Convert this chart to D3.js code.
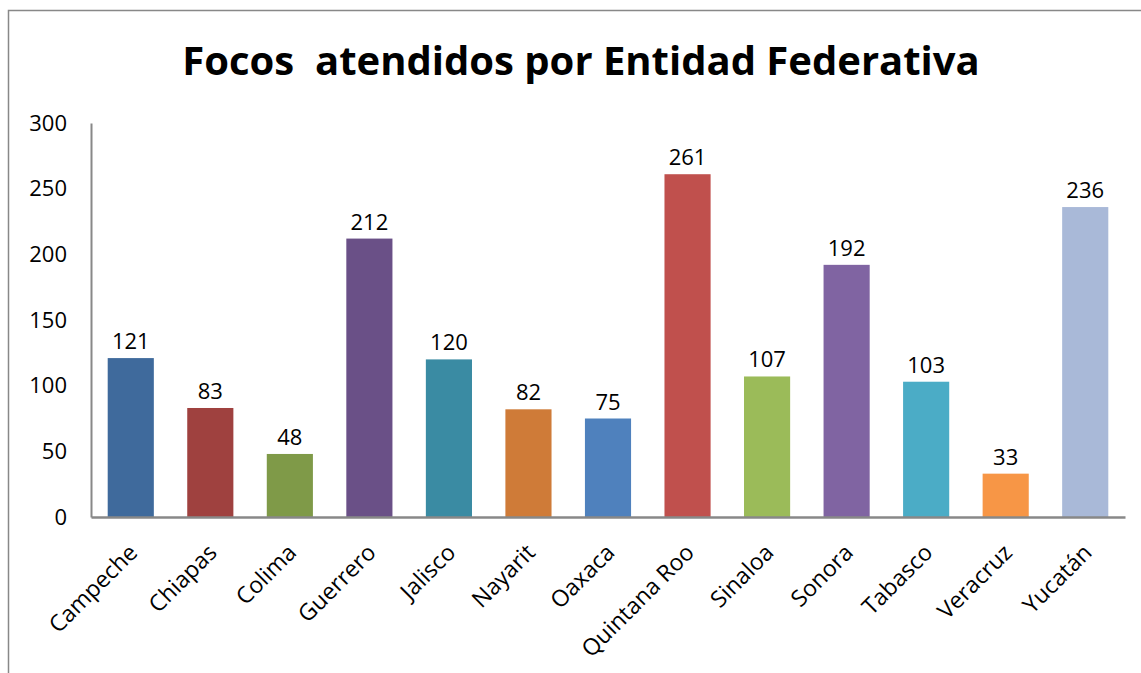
<!DOCTYPE html>
<html>
<head>
<meta charset="utf-8">
<script src="https://cdn.jsdelivr.net/npm/d3@7"></script>
<style>
  html, body { margin: 0; padding: 0; background: #fff; }
  svg { display: block; }
</style>
</head>
<body>
<div id="chart"></div>
<script>
const categories = ["Campeche", "Chiapas", "Colima", "Guerrero", "Jalisco", "Nayarit", "Oaxaca",
  "Quintana Roo", "Sinaloa", "Sonora", "Tabasco", "Veracruz", "Yucatán"];
const values = [121, 83, 48, 212, 120, 82, 75, 261, 107, 192, 103, 33, 236];
const barColors = ["#3f6a9c", "#9f413f", "#7f9a48", "#6a5087", "#3a8ba3", "#cf7b38", "#4f81bd",
  "#c0504d", "#9bbb59", "#8064a2", "#4bacc6", "#f79646", "#a9b9d8"];
const yTicks = [0, 50, 100, 150, 200, 250, 300];
const title = "Focos\u00a0 atendidos por Entidad Federativa";

(function() {
  const width = 1141;
  const height = 673;
  const font = "'Open Sans', sans-serif";

  const svg = d3.select("#chart")
    .append("svg")
    .attr("width", width)
    .attr("height", height);

  // chart frame (only left and top edges are visible in the picture)
  svg.append("path")
    .attr("d", `M8.5,${height} V10.5 H${width}`)
    .attr("fill", "none")
    .attr("stroke", "#888")
    .attr("stroke-width", 1.5);

  const x = d3.scaleBand().domain(categories).range([91, 1125]).paddingInner(0.42).paddingOuter(0.21);
  const y = d3.scaleLinear().domain([0, 300]).range([517, 123]);

  svg.append("text")
    .attr("x", 581)
    .attr("y", 75)
    .attr("text-anchor", "middle")
    .style("font-family", font)
    .style("font-size", "40px")
    .style("font-weight", "bold")
    .style("fill", "#000")
    .text(title);

  svg.selectAll("rect.bar")
    .data(values)
    .join("rect")
    .attr("class", "bar")
    .attr("x", (d, i) => x(categories[i]))
    .attr("y", d => y(d))
    .attr("width", x.bandwidth())
    .attr("height", d => y(0) - y(d))
    .attr("fill", (d, i) => barColors[i]);

  svg.selectAll("text.val")
    .data(values)
    .join("text")
    .attr("class", "val")
    .attr("x", (d, i) => x(categories[i]) + x.bandwidth() / 2)
    .attr("y", d => y(d) - 9)
    .attr("text-anchor", "middle")
    .style("font-family", font)
    .style("font-size", "22px")
    .style("fill", "#000")
    .text(d => d);

  // y axis
  const yAxis = svg.append("g")
    .attr("transform", "translate(91,0)")
    .call(d3.axisLeft(y).tickValues(yTicks).tickSize(0).tickPadding(24));
  yAxis.select(".domain").attr("stroke", "#888").attr("stroke-width", 2);
  yAxis.selectAll("text")
    .style("font-family", font)
    .style("font-size", "22px")
    .style("fill", "#000");

  // x axis
  const xAxis = svg.append("g")
    .attr("transform", `translate(0,${y(0)})`)
    .call(d3.axisBottom(x).tickSize(0).tickSizeOuter(0));
  xAxis.select(".domain").attr("stroke", "#888").attr("stroke-width", 2.5);
  xAxis.selectAll("text")
    .style("font-family", font)
    .style("font-size", "23px")
    .style("fill", "#000")
    .attr("text-anchor", "end")
    .attr("dy", null)
    .attr("y", 0)
    .attr("transform", "translate(8,37) rotate(-45)");
})();
</script>
</body>
</html>
